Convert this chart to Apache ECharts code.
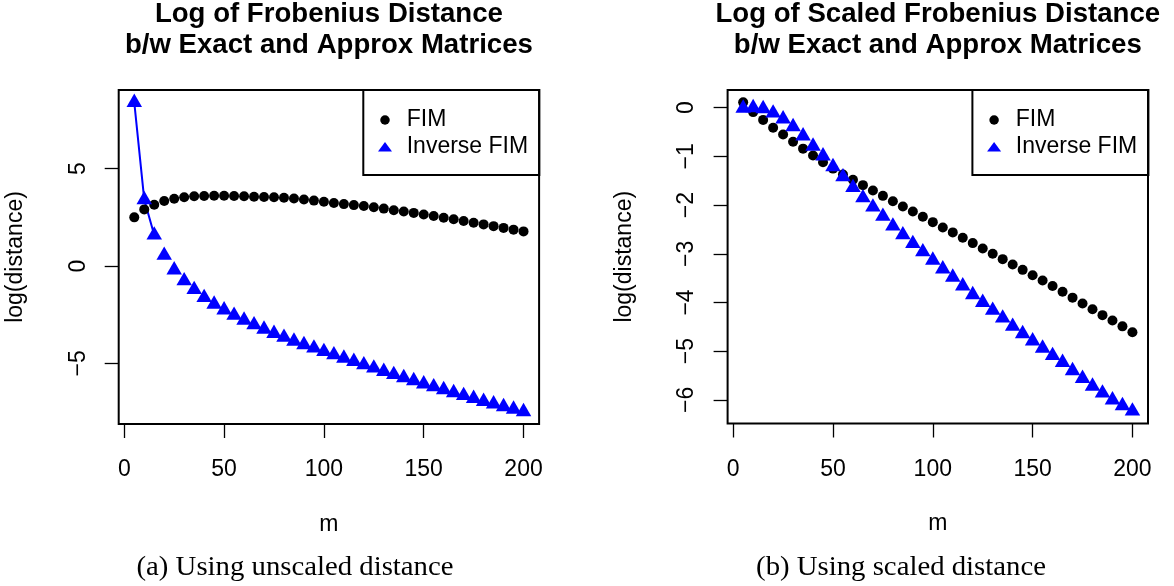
<!DOCTYPE html>
<html><head><meta charset="utf-8">
<script src="https://cdn.jsdelivr.net/npm/echarts@6/dist/echarts.min.js"></script>
<style>html,body{margin:0;padding:0;background:#fff}#c{width:1174px;height:586px}</style>
</head><body><div id="c"></div>
<script>
// ---- data ----
const mValues = [5,10,15,20,25,30,35,40,45,50,55,60,65,70,75,80,85,90,95,100,
  105,110,115,120,125,130,135,140,145,150,155,160,165,170,175,180,185,190,195,200];
const fimUnscaled = [2.50,2.91,3.15,3.34,3.46,3.53,3.58,3.60,3.61,3.61,3.60,3.58,3.56,3.55,3.53,3.51,3.47,3.42,3.36,3.30,
  3.24,3.18,3.13,3.08,3.02,2.95,2.87,2.80,2.73,2.65,2.57,2.48,2.40,2.31,2.22,2.14,2.05,1.96,1.87,1.78];
const invUnscaled = [8.40,3.41,1.59,0.55,-0.20,-0.76,-1.21,-1.62,-1.96,-2.25,-2.53,-2.78,-3.02,-3.24,-3.46,-3.66,-3.86,-4.04,-4.21,-4.39,
  -4.56,-4.73,-4.90,-5.07,-5.24,-5.41,-5.57,-5.73,-5.89,-6.05,-6.20,-6.35,-6.50,-6.65,-6.80,-6.95,-7.08,-7.22,-7.35,-7.48];
const fimScaled = [0.11,-0.09,-0.25,-0.41,-0.55,-0.70,-0.84,-0.98,-1.12,-1.25,-1.37,-1.48,-1.59,-1.70,-1.81,-1.92,-2.03,-2.13,-2.24,-2.35,
  -2.46,-2.56,-2.67,-2.78,-2.89,-3.00,-3.11,-3.22,-3.33,-3.44,-3.55,-3.66,-3.78,-3.90,-4.02,-4.14,-4.26,-4.37,-4.49,-4.61];
const invScaled = [-0.01,0.00,-0.02,-0.11,-0.23,-0.39,-0.58,-0.79,-0.99,-1.21,-1.42,-1.64,-1.85,-2.04,-2.23,-2.43,-2.61,-2.79,-2.96,-3.13,
  -3.31,-3.48,-3.66,-3.84,-4.00,-4.16,-4.32,-4.49,-4.64,-4.79,-4.94,-5.09,-5.23,-5.40,-5.56,-5.72,-5.86,-6.00,-6.12,-6.23];
const xTicks = [0,50,100,150,200];
const yTicksLeft = [-5,0,5];
const yTicksRight = [0,-1,-2,-3,-4,-5,-6];
const seriesNames = ['FIM','Inverse FIM'];
const titlesLeft = ['Log of Frobenius Distance','b/w Exact and Approx Matrices'];
const titlesRight = ['Log of Scaled Frobenius Distance','b/w Exact and Approx Matrices'];
const captions = ['(a) Using unscaled distance','(b) Using scaled distance'];
const xName = 'm', yName = 'log(distance)';

// ---- chart ----
const FONT = '"Liberation Sans", Arial, Helvetica, sans-serif';
const zip = (xs, ys) => xs.map((x,i)=>[x, ys[i]]);
const minus = v => String(v).replace('-', '\u2212');

function xAxis(gi){
  return {type:'value', gridIndex:gi, min:-2.8, max:207.8,
    axisLine:{show:false, onZero:false}, splitLine:{show:false},
    axisTick:{show:true, customValues:xTicks, length:14, lineStyle:{color:'#000', width:1.3}},
    axisLabel:{customValues:xTicks, margin:34.5, fontSize:23, fontFamily:FONT, color:'#000'},
    name:xName, nameLocation:'middle', nameGap:89,
    nameTextStyle:{fontSize:23, fontFamily:FONT, color:'#000'}};
}
function yAxis(gi, min, max, ticks){
  return {type:'value', gridIndex:gi, min:min, max:max,
    axisLine:{show:false, onZero:false}, splitLine:{show:false},
    axisTick:{show:true, customValues:ticks, length:14, lineStyle:{color:'#000', width:1.3}},
    axisLabel:{customValues:ticks, rotate:90, margin:29, fontSize:23, fontFamily:FONT, color:'#000', formatter:minus},
    name:yName, nameLocation:'middle', nameGap:91.5,
    nameTextStyle:{fontSize:23, fontFamily:FONT, color:'#000'}};
}
function legend(left){
  return {orient:'vertical', left:left, top:90, padding:[18.5,11.2,16.8,14.7], itemGap:3.7,
    itemWidth:14, itemHeight:9.5, borderColor:'#000', borderWidth:2, selectedMode:false,
    data:[{name:seriesNames[0], icon:'circle'},{name:seriesNames[1], icon:'triangle'}],
    textStyle:{fontSize:23, fontFamily:FONT, color:'#000', padding:[0,0,0,9.7], lineHeight:23}};
}
function txt(x, y, text, font, sx){
  return {type:'text', x:x, y:y, scaleX:sx||1, z:10,
    style:{text:text, font:font, fill:'#000', align:'center', verticalAlign:'middle',
      textAlign:'center', textVerticalAlign:'middle'}};
}
const circ = {symbol:'circle', symbolSize:10, itemStyle:{color:'#000', opacity:1}};
const tri = {symbol:'triangle', symbolSize:[15.5,13.4], symbolOffset:[0,-2.2], itemStyle:{color:'#0000ff', opacity:1}};

const option = {
  animation:false,
  backgroundColor:'#fff',
  grid:[
    {left:118.7, top:90, width:420.4, height:334, show:true, borderColor:'#000', borderWidth:2, backgroundColor:'transparent'},
    {left:727.6, top:90, width:420.4, height:333.5, show:true, borderColor:'#000', borderWidth:2, backgroundColor:'transparent'}
  ],
  xAxis:[xAxis(0), xAxis(1)],
  yAxis:[yAxis(0,-8.11,9.04,yTicksLeft), yAxis(1,-6.485,0.364,yTicksRight)],
  legend:[legend(363.3), legend(972.4)],
  series:[
    Object.assign({type:'scatter', name:seriesNames[0], xAxisIndex:0, yAxisIndex:0, data:zip(mValues,fimUnscaled), z:2}, circ),
    {type:'line', name:'Inverse FIM segment', xAxisIndex:0, yAxisIndex:0, data:zip(mValues.slice(0,3), invUnscaled.slice(0,3)),
      showSymbol:false, symbol:'none', lineStyle:{color:'#0000ff', width:2}, z:1},
    Object.assign({type:'scatter', name:seriesNames[1], xAxisIndex:0, yAxisIndex:0, data:zip(mValues,invUnscaled), z:3}, tri),
    Object.assign({type:'scatter', name:seriesNames[0], xAxisIndex:1, yAxisIndex:1, data:zip(mValues,fimScaled), z:2}, circ),
    Object.assign({type:'scatter', name:seriesNames[1], xAxisIndex:1, yAxisIndex:1, data:zip(mValues,invScaled), z:3}, tri)
  ],
  graphic:[
    txt(328.9, 14.8, titlesLeft[0], 'bold 27.6px ' + FONT),
    txt(328.9, 45.4, titlesLeft[1], 'bold 27.6px ' + FONT),
    txt(937.8, 14.8, titlesRight[0], 'bold 27.6px ' + FONT),
    txt(937.8, 45.4, titlesRight[1], 'bold 27.6px ' + FONT),
    txt(295, 568, captions[0], '26.5px "Liberation Serif", "Times New Roman", serif', 1.085),
    txt(901, 568, captions[1], '26.5px "Liberation Serif", "Times New Roman", serif', 1.085)
  ]
};
const chart = echarts.init(document.getElementById('c'), null, {renderer:'canvas'});
chart.setOption(option);
</script>
</body></html>
